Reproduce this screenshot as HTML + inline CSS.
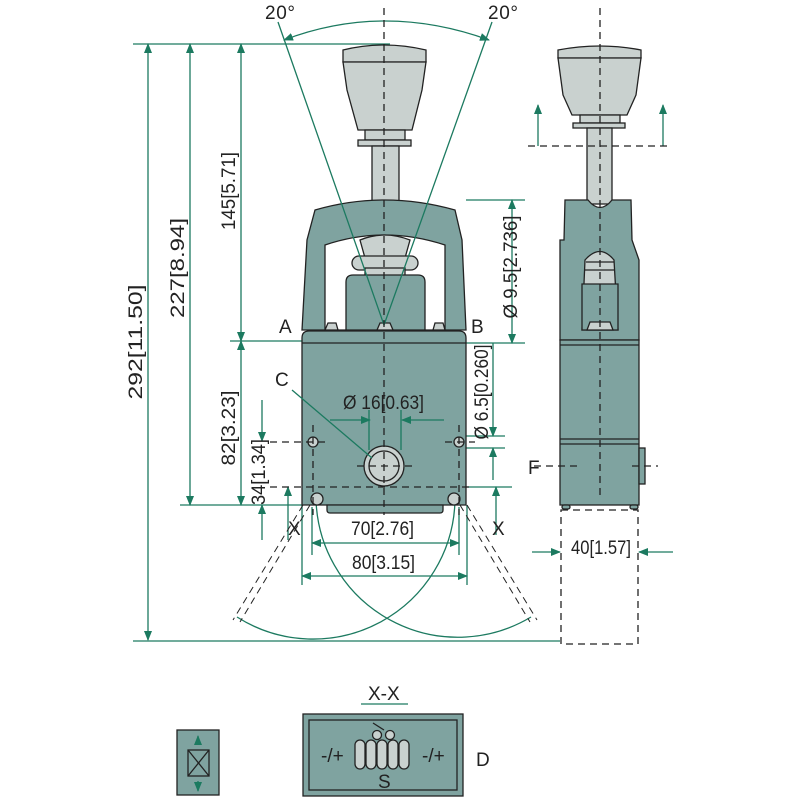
<!DOCTYPE html>
<html><head><style>html,body{margin:0;padding:0;background:#fff}svg{display:block}
text{font-family:"Liberation Sans",sans-serif;font-size:19px;fill:#222}</style></head>
<body>
<svg width="800" height="800" viewBox="0 0 800 800" xmlns="http://www.w3.org/2000/svg">
<defs>
<marker id="a" markerWidth="10" markerHeight="8" refX="9" refY="4" orient="auto-start-reverse" markerUnits="userSpaceOnUse"><path d="M0,0 L10,4 L0,8z" fill="#1c7a60"/></marker>
</defs>
<g stroke="#1c7a60" stroke-width="1.3" fill="none">
<path d="M284,40 Q384,2 489,40" marker-start="url(#a)" marker-end="url(#a)"/>
<line x1="133" y1="44" x2="390" y2="44"/>
<line x1="148" y1="44" x2="148" y2="640" marker-start="url(#a)" marker-end="url(#a)"/>
<line x1="190" y1="44" x2="190" y2="505" marker-start="url(#a)" marker-end="url(#a)"/>
<line x1="241" y1="44" x2="241" y2="341" marker-start="url(#a)" marker-end="url(#a)"/>
<line x1="241" y1="341" x2="241" y2="505" marker-start="url(#a)" marker-end="url(#a)"/>
<line x1="230" y1="341" x2="302" y2="341"/>
<line x1="180" y1="505" x2="302" y2="505"/>
<line x1="133" y1="641" x2="560" y2="641"/>
<line x1="262" y1="400" x2="262" y2="441" marker-end="url(#a)"/>
<line x1="262" y1="540" x2="262" y2="505" marker-end="url(#a)"/>
<line x1="288" y1="540" x2="288" y2="487" marker-end="url(#a)"/>
<line x1="466" y1="200" x2="525" y2="200"/>
<line x1="466" y1="343" x2="525" y2="343"/>
<line x1="512" y1="200" x2="512" y2="343" marker-start="url(#a)" marker-end="url(#a)"/>
<line x1="493" y1="343" x2="493" y2="436" marker-end="url(#a)"/>
<line x1="493" y1="480" x2="493" y2="448" marker-end="url(#a)"/>
<line x1="466" y1="436" x2="505" y2="436"/>
<line x1="466" y1="448" x2="505" y2="448"/>
<line x1="466" y1="487" x2="512" y2="487"/>
<line x1="496" y1="535" x2="496" y2="487" marker-end="url(#a)"/>
<line x1="312" y1="507" x2="312" y2="555"/>
<line x1="459" y1="507" x2="459" y2="555"/>
<line x1="302" y1="505" x2="302" y2="585"/>
<line x1="467" y1="505" x2="467" y2="585"/>
<line x1="312" y1="543" x2="459" y2="543" marker-start="url(#a)" marker-end="url(#a)"/>
<line x1="302" y1="576" x2="467" y2="576" marker-start="url(#a)" marker-end="url(#a)"/>
<path d="M237,617 A142,142 0 0 0 455,500"/>
<path d="M531,617 A142,142 0 0 1 316,500"/>
<line x1="538" y1="146" x2="538" y2="105" marker-end="url(#a)"/>
<line x1="663" y1="146" x2="663" y2="105" marker-end="url(#a)"/>
<line x1="532" y1="552" x2="560" y2="552" marker-end="url(#a)"/>
<line x1="673" y1="552" x2="639" y2="552" marker-end="url(#a)"/>
<line x1="361" y1="704" x2="408" y2="704"/>
</g>
<g stroke="#222" stroke-width="1.3">
<path d="M343,50 Q384,40 426,50 L426,62 L343,62Z" fill="#c9d1cf"/>
<path d="M343,62 L426,62 L422,90 L412,130 L358,130 L347,90Z" fill="#c9d1cf"/>
<rect x="365" y="130" width="40" height="10" fill="#c9d1cf"/>
<rect x="358" y="140" width="53" height="6" fill="#c9d1cf"/>
<rect x="372" y="146" width="27" height="56" fill="#c9d1cf"/>
<path d="M315,210 Q384,190 455,210 L462,240 L466,330 L302,330 L307,240Z" fill="#7fa3a0"/>
<path d="M325,245 Q384,225 445,245 L445,330 L325,330Z" fill="#fff"/>
<path d="M360,240 Q384,230 410,240 L405,258 L365,258Z" fill="#c9d1cf"/>
<rect x="352" y="256" width="66" height="14" rx="7" fill="#c9d1cf"/>
<rect x="365" y="268" width="40" height="8" fill="#c9d1cf"/>
<path d="M346,282 Q346,275 353,275 L418,275 Q425,275 425,282 L425,330 L346,330Z" fill="#7fa3a0"/>
<path d="M325,330 L328,323 L336,323 L338,330Z M377,330 L380,323 L390,323 L393,330Z M433,330 L435,323 L443,323 L445,330Z" fill="#c9d1cf"/>
<path d="M302,338 Q302,331 309,331 L459,331 Q466,331 466,338 L466,505 L302,505Z" fill="#7fa3a0"/>
<line x1="302" y1="343" x2="466" y2="343"/>
<path d="M327,505 L443,505 L443,510 Q443,513 440,513 L330,513 Q327,513 327,510Z" fill="#7fa3a0"/>
<circle cx="384" cy="466" r="20" fill="#c9d1cf"/>
<circle cx="384" cy="466" r="15" fill="#c9d1cf"/>
<circle cx="313" cy="442" r="5" fill="#c9d1cf"/>
<circle cx="459" cy="442" r="5" fill="#c9d1cf"/>
<circle cx="317" cy="499" r="6" fill="#c9d1cf"/>
<circle cx="454" cy="499" r="6" fill="#c9d1cf"/>
</g>
<g stroke="#222" stroke-width="1.3">
<path d="M558,50 Q600,42 641,50 L641,58 L558,58Z" fill="#c9d1cf"/>
<path d="M558,58 L641,58 L636,95 L627,115 L572,115 L563,95Z" fill="#c9d1cf"/>
<rect x="580" y="115" width="40" height="8" fill="#c9d1cf"/>
<rect x="573" y="123" width="52" height="5" fill="#c9d1cf"/>
<rect x="587" y="128" width="25" height="76" fill="#c9d1cf"/>
<path d="M565,200 L588,200 Q600,215 612,200 L631,200 L632,240 L639,260 L639,340 L560,340 L560,240 L564,240Z" fill="#7fa3a0"/>
<path d="M585,260 Q600,243 614,260 L618,330 L582,330Z" fill="#c9d1cf"/>
<line x1="586" y1="262" x2="614" y2="262"/>
<line x1="585" y1="270" x2="615" y2="270"/>
<path d="M582,284 L618,284 L618,330 L582,330Z" fill="#7fa3a0"/>
<path d="M587,330 L590,322 L610,322 L613,330Z" fill="#c9d1cf"/>
<rect x="560" y="340" width="79" height="165" fill="#7fa3a0"/>
<line x1="560" y1="345" x2="639" y2="345"/>
<line x1="560" y1="439" x2="639" y2="439"/>
<line x1="560" y1="444" x2="639" y2="444"/>
<rect x="639" y="448" width="6" height="36" fill="#7fa3a0"/>
<rect x="562" y="505" width="8" height="4" rx="2" fill="#7fa3a0"/>
<rect x="630" y="505" width="8" height="4" rx="2" fill="#7fa3a0"/>
</g>
<g stroke="#1c7a60" stroke-width="1.3" fill="none">
<line x1="384" y1="325" x2="278" y2="22"/>
<line x1="384" y1="325" x2="492" y2="22"/>
<line x1="292" y1="390" x2="372" y2="458"/>
<line x1="330" y1="420" x2="370" y2="420" marker-end="url(#a)"/>
<line x1="444" y1="420" x2="402" y2="420" marker-end="url(#a)"/>
<line x1="369" y1="410" x2="369" y2="450"/>
<line x1="401" y1="410" x2="401" y2="450"/>
</g>
<g stroke="#222" stroke-width="1.3" stroke-dasharray="7,5" fill="none">
<line x1="384" y1="8" x2="384" y2="515"/>
<line x1="600" y1="8" x2="600" y2="500"/>
<line x1="528" y1="146" x2="672" y2="146"/>
<line x1="270" y1="442" x2="330" y2="442"/>
<line x1="445" y1="442" x2="475" y2="442"/>
<line x1="313" y1="425" x2="313" y2="515"/>
<line x1="459" y1="425" x2="459" y2="515"/>
<line x1="270" y1="487" x2="470" y2="487"/>
<line x1="357" y1="466" x2="412" y2="466"/>
<line x1="534" y1="466" x2="578" y2="466"/>
<line x1="632" y1="466" x2="658" y2="466"/>
<rect x="561" y="510" width="77" height="134"/>
<line x1="310" y1="505" x2="240" y2="622" stroke-width="1"/>
<line x1="303" y1="505" x2="233" y2="620" stroke-width="1"/>
<line x1="460" y1="505" x2="530" y2="622" stroke-width="1"/>
<line x1="467" y1="505" x2="537" y2="620" stroke-width="1"/>
</g>
<g stroke="#222" stroke-width="1.3">
<rect x="177" y="730" width="42" height="65" fill="#7fa3a0"/>
<rect x="188" y="750" width="21" height="26" fill="none"/>
<line x1="188" y1="750" x2="209" y2="776"/><line x1="209" y1="750" x2="188" y2="776"/>
<rect x="303" y="714" width="160" height="82" fill="#7fa3a0"/>
<rect x="309" y="720" width="148" height="70" fill="none"/>
<line x1="373" y1="723" x2="384" y2="730"/>
<circle cx="377" cy="735" r="4.5" fill="#c9d1cf"/>
<circle cx="390" cy="735" r="4.5" fill="#c9d1cf"/>
<rect x="355" y="740" width="10" height="29" rx="5" fill="#c9d1cf"/>
<rect x="366" y="740" width="10" height="29" rx="5" fill="#c9d1cf"/>
<rect x="377" y="740" width="10" height="29" rx="5" fill="#c9d1cf"/>
<rect x="388" y="740" width="10" height="29" rx="5" fill="#c9d1cf"/>
<rect x="399" y="740" width="10" height="29" rx="5" fill="#c9d1cf"/>
</g>
<g stroke="#1c7a60" stroke-width="1.3">
<line x1="198" y1="745" x2="198" y2="736" marker-end="url(#a)"/>
<line x1="198" y1="781" x2="198" y2="791" marker-end="url(#a)"/>
</g>
<text x="265" y="19" textLength="30">20°</text>
<text x="488" y="19" textLength="30">20°</text>
<text x="279" y="333">A</text>
<text x="471" y="333">B</text>
<text x="275" y="386">C</text>
<text x="343" y="409" textLength="81" lengthAdjust="spacingAndGlyphs">Ø 16[0.63]</text>
<text x="288" y="535">X</text>
<text x="492" y="535">X</text>
<text x="351" y="535" textLength="63" lengthAdjust="spacingAndGlyphs">70[2.76]</text>
<text x="352" y="569" textLength="63" lengthAdjust="spacingAndGlyphs">80[3.15]</text>
<text x="528" y="474">F</text>
<text x="571" y="554" textLength="60" lengthAdjust="spacingAndGlyphs">40[1.57]</text>
<text x="476" y="766">D</text>
<text x="368" y="700">X-X</text>
<text x="321" y="762" font-size="15">-/+</text>
<text x="422" y="762" font-size="15">-/+</text>
<text x="378" y="788" font-size="16">S</text>
<g lengthAdjust="spacingAndGlyphs">
<text transform="translate(142,342) rotate(-90)" text-anchor="middle" textLength="115" lengthAdjust="spacingAndGlyphs">292[11.50]</text>
<text transform="translate(184,268) rotate(-90)" text-anchor="middle" textLength="100" lengthAdjust="spacingAndGlyphs">227[8.94]</text>
<text transform="translate(235,191) rotate(-90)" text-anchor="middle" textLength="78" lengthAdjust="spacingAndGlyphs">145[5.71]</text>
<text transform="translate(235,428) rotate(-90)" text-anchor="middle" textLength="75" lengthAdjust="spacingAndGlyphs">82[3.23]</text>
<text transform="translate(265,472) rotate(-90)" text-anchor="middle" textLength="66" lengthAdjust="spacingAndGlyphs">34[1.34]</text>
<text transform="translate(517,267) rotate(-90)" text-anchor="middle" textLength="103" lengthAdjust="spacingAndGlyphs">Ø 9.5[2.736]</text>
<text transform="translate(488,392) rotate(-90)" text-anchor="middle" textLength="95" lengthAdjust="spacingAndGlyphs">Ø 6.5[0.260]</text>
</g>
</svg>
</body></html>
